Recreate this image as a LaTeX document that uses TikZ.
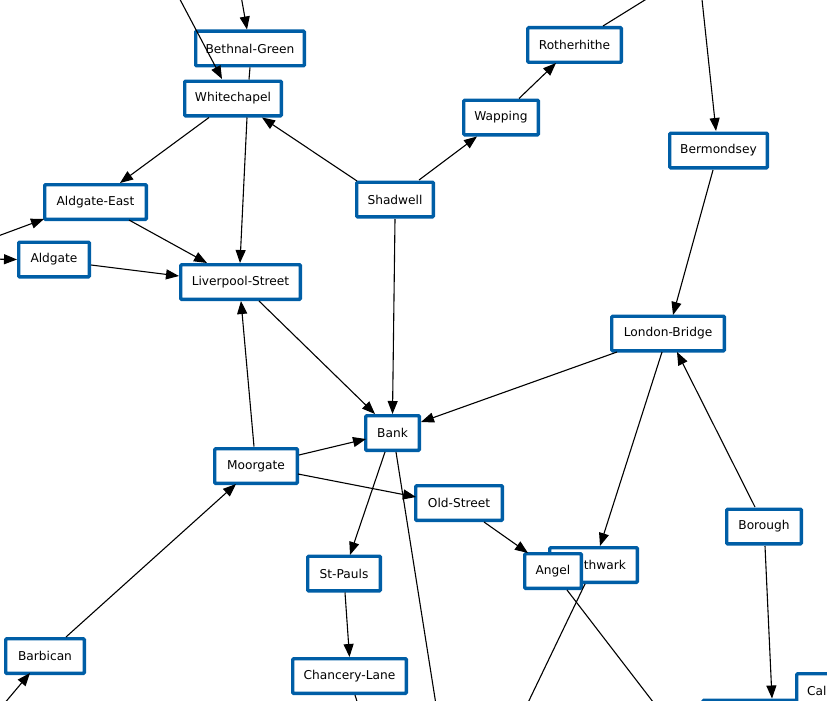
\documentclass[tikz,border=0pt]{standalone}
\usepackage{fontspec}
\setmainfont{DejaVu Sans}
\usetikzlibrary{arrows.meta}
\definecolor{stblue}{RGB}{0,94,166}
\begin{document}
\begin{tikzpicture}[x=1pt,y=-1pt,
  st/.style={draw=stblue, line width=3.4pt, fill=white, rounded corners=1pt, minimum height=34.6pt, inner sep=0pt, font=\fontsize{12.2}{14}\selectfont},
  edge/.style={line width=1.1pt, -{Triangle[length=13pt,width=10pt]}},
  plain/.style={line width=1.1pt}]
\useasboundingbox (0,0) rectangle (827,701);
\clip (0,0) rectangle (827,701);
% stations
\node[st,minimum width=108.6pt] (BG) at (250,48.5) {Bethnal-Green};
\node[st,minimum width=96.6pt] (WC) at (233,98.5) {Whitechapel};
\node[st,minimum width=93.6pt] (RH) at (574.5,45) {Rotherhithe};
\node[st,minimum width=74.6pt] (WP) at (501,117.5) {Wapping};
\node[st,minimum width=97.6pt] (BM) at (718.5,150.5) {Bermondsey};
\node[st,minimum width=76.6pt] (SH) at (395,199.5) {Shadwell};
\node[st,minimum width=101.6pt] (AE) at (95.5,202) {Aldgate-East};
\node[st,minimum width=70.6pt] (AG) at (54,259.5) {Aldgate};
\node[st,minimum width=119.6pt] (LS) at (240.5,282) {Liverpool-Street};
\node[st,minimum width=112.6pt] (LB) at (668,333.5) {London-Bridge};
\node[st,minimum width=53.6pt] (BK) at (392.5,433) {Bank};
\node[st,minimum width=82.6pt] (MG) at (256,466) {Moorgate};
\node[st,minimum width=86.6pt] (OS) at (459,503) {Old-Street};
\node[st,minimum width=74.6pt] (BO) at (764,526.5) {Borough};
\node[st,minimum width=87.6pt] (SW) at (593.5,565) {Southwark};
\node[st,minimum width=56.6pt] (AN) at (553,571) {Angel};
\node[st,minimum width=72.6pt] (SP) at (344,573.5) {St-Pauls};
\node[st,minimum width=78.6pt] (BC) at (45,656) {Barbican};
\node[st,minimum width=113.6pt] (CL) at (349.5,676) {Chancery-Lane};
\node[st,minimum width=110pt] (BX) at (758,717.5) {};
\node[st,inner xsep=10.5pt,anchor=west] (CR) at (795,691) {Caledonian-Road};
% free ends outside the frame
\coordinate (t1) at (175,-10);
\coordinate (t2) at (240,-10);
\coordinate (t3) at (661,-10);
\coordinate (t4) at (701,-10);
\coordinate (t5) at (-10,239);
\coordinate (t6) at (-10,259);
\coordinate (t7) at (437,711);
\coordinate (t8) at (524,711);
\coordinate (t9) at (660,711);
\coordinate (t10) at (-2,711);
\coordinate (t11) at (360,711);
% connectors
\draw[edge] (t1) -- ([shift={(-11,-19.5)}]WC.center);
\draw[edge] (t2) -- ([shift={(-3,-19)}]BG.center);
\draw[plain] ([shift={(0,19)}]BG.center) -- ([shift={(16,-19)}]WC.center);
\draw[plain] ([shift={(28.5,-19)}]RH.center) -- (t3);
\draw[edge] (t4) -- ([shift={(-2.5,-19.5)}]BM.center);
\draw[edge] ([shift={(18,-19)}]WP.center) -- ([shift={(-18.5,18)}]RH.center);
\draw[edge] ([shift={(24,-19.5)}]SH.center) -- ([shift={(-24,19)}]WP.center);
\draw[edge] ([shift={(-38,-18.5)}]SH.center) -- ([shift={(29,19)}]WC.center);
\draw[edge] ([shift={(-24,19)}]WC.center) -- ([shift={(24.5,-19)}]AE.center);
\draw[edge] ([shift={(14,19)}]WC.center) -- ([shift={(-0.5,-19)}]LS.center);
\draw[edge] (t5) -- ([shift={(-51.5,17)}]AE.center);
\draw[edge] (t6) -- ([shift={(-37,0)}]AG.center);
\draw[edge] ([shift={(33.5,18)}]AE.center) -- ([shift={(-33.5,-19)}]LS.center);
\draw[edge] ([shift={(37,5.5)}]AG.center) -- ([shift={(-61.5,-6)}]LS.center);
\draw[edge] ([shift={(18.5,19)}]LS.center) -- ([shift={(-17.5,-19)}]BK.center);
\draw[edge] ([shift={(0,19.5)}]SH.center) -- ([shift={(0,-19)}]BK.center);
\draw[edge] ([shift={(-51,18.5)}]LB.center) -- ([shift={(28.5,-11)}]BK.center);
\draw[edge] ([shift={(-5.5,19.5)}]BM.center) -- ([shift={(5,-18.5)}]LB.center);
\draw[edge] ([shift={(-2,-19.5)}]MG.center) -- ([shift={(0.5,19)}]LS.center);
\draw[edge] ([shift={(43,-11)}]MG.center) -- ([shift={(-26.5,6)}]BK.center);
\draw[edge] ([shift={(42,8)}]MG.center) -- ([shift={(-43,-6)}]OS.center);
\draw[edge] ([shift={(-7.5,19)}]BK.center) -- ([shift={(6,-18.5)}]SP.center);
\draw[plain] ([shift={(3.5,19)}]BK.center) -- (t7);
\draw[edge] ([shift={(25,19)}]OS.center) -- ([shift={(-25,-18)}]AN.center);
\draw[edge] ([shift={(-6,18.5)}]LB.center) -- ([shift={(6.5,-19)}]SW.center);
\draw[edge] ([shift={(-9,-19.5)}]BO.center) -- ([shift={(9,18.5)}]LB.center);
\draw[edge] ([shift={(1,19.5)}]BO.center) -- ([shift={(14,-19)}]BX.center);
\draw[plain] ([shift={(-8.5,19)}]SW.center) -- (t8);
\draw[plain] ([shift={(14,19)}]AN.center) -- (t9);
\draw[edge] ([shift={(21,-19)}]BC.center) -- ([shift={(-20,18)}]MG.center);
\draw[edge] (t10) -- ([shift={(-15,17)}]BC.center);
\draw[edge] ([shift={(1,19)}]SP.center) -- ([shift={(0,-19)}]CL.center);
\draw[plain] ([shift={(5.5,19)}]CL.center) -- (t11);
\end{tikzpicture}
\end{document}
